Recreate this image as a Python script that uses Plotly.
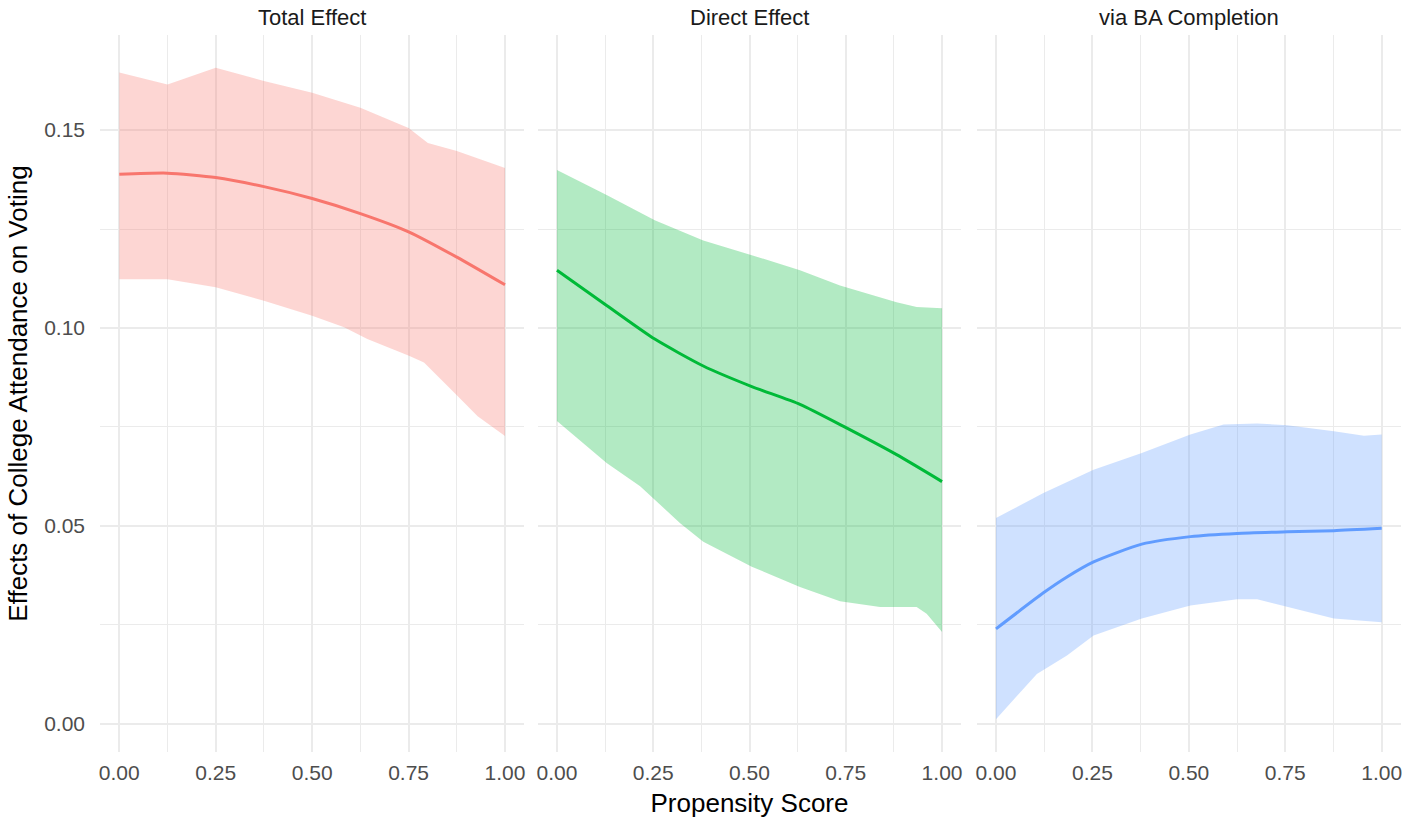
import plotly.graph_objects as go

# ---------------- data ----------------
panels = ["Total Effect", "Direct Effect", "via BA Completion"]
x_ticks = [0.0, 0.25, 0.5, 0.75, 1.0]
x_tick_labels = ["0.00", "0.25", "0.50", "0.75", "1.00"]
y_ticks = [0.0, 0.05, 0.10, 0.15]
y_tick_labels = ["0.00", "0.05", "0.10", "0.15"]

# Total effect
tot_up_x = [0, 0.125, 0.25, 0.375, 0.5, 0.625, 0.75, 0.8, 0.875, 1.0]
tot_up = [0.1645, 0.1615, 0.1657, 0.1624, 0.1594, 0.1556, 0.1505, 0.1467, 0.1447, 0.1404]
tot_est_x = [0, 0.125, 0.25, 0.375, 0.5, 0.625, 0.75, 0.875, 1.0]
tot_est = [0.1388, 0.1391, 0.1380, 0.1357, 0.1327, 0.1289, 0.1243, 0.1179, 0.1109]
tot_lo_x = [0, 0.125, 0.25, 0.375, 0.5, 0.583, 0.643, 0.751, 0.79, 0.877, 0.929, 1.0]
tot_lo = [0.1123, 0.1123, 0.1103, 0.1069, 0.1031, 0.1002, 0.0972, 0.0930, 0.0913, 0.0828, 0.0777, 0.0727]

# Direct effect
dir_up_x = [0, 0.085, 0.129, 0.254, 0.380, 0.506, 0.631, 0.735, 0.882, 0.934, 1.0]
dir_up = [0.1399, 0.1357, 0.1336, 0.1272, 0.1221, 0.1184, 0.1146, 0.1107, 0.1065, 0.1053, 0.1050]
dir_est_x = [0, 0.129, 0.254, 0.380, 0.506, 0.631, 0.743, 0.882, 1.0]
dir_est = [0.1146, 0.1057, 0.0972, 0.0904, 0.0852, 0.0807, 0.0752, 0.0680, 0.0612]
dir_lo_x = [0, 0.129, 0.216, 0.254, 0.32, 0.380, 0.506, 0.631, 0.735, 0.839, 0.934, 0.960, 1.0]
dir_lo = [0.0765, 0.0659, 0.0600, 0.0566, 0.0507, 0.0460, 0.0397, 0.0346, 0.0310, 0.0295, 0.0295, 0.0278, 0.0232]

# Via BA completion
ba_up_x = [0, 0.123, 0.253, 0.378, 0.504, 0.59, 0.677, 0.755, 0.876, 0.954, 1.0]
ba_up = [0.0520, 0.0583, 0.0642, 0.0684, 0.0731, 0.0756, 0.0759, 0.0754, 0.0739, 0.0728, 0.0731]
ba_est_x = [0, 0.123, 0.184, 0.253, 0.378, 0.504, 0.625, 0.755, 0.876, 1.0]
ba_est = [0.0240, 0.0331, 0.0371, 0.0409, 0.0454, 0.0473, 0.0481, 0.0485, 0.0488, 0.0494]
ba_lo_x = [0, 0.106, 0.184, 0.253, 0.378, 0.504, 0.625, 0.677, 0.755, 0.876, 1.0]
ba_lo = [0.0012, 0.0126, 0.0173, 0.0223, 0.0266, 0.0299, 0.0315, 0.0315, 0.0295, 0.0266, 0.0257]

line_colors = ["#F8766D", "#00BA38", "#619CFF"]
fill_colors = ["rgba(248,118,109,0.3)", "rgba(0,186,56,0.3)", "rgba(97,156,255,0.3)"]

series = [
    (tot_up_x, tot_up, tot_est_x, tot_est, tot_lo_x, tot_lo),
    (dir_up_x, dir_up, dir_est_x, dir_est, dir_lo_x, dir_lo),
    (ba_up_x, ba_up, ba_est_x, ba_est, ba_lo_x, ba_lo),
]

FONT = "Liberation Sans, Arial, Helvetica, sans-serif"
fig = go.Figure()

for i, (ux, uy, ex, ey, lx, ly) in enumerate(series):
    xa = "x" if i == 0 else f"x{i+1}"
    ya = "y" if i == 0 else f"y{i+1}"
    poly_x = list(ux) + list(reversed(lx))
    poly_y = list(uy) + list(reversed(ly))
    fig.add_trace(go.Scatter(x=poly_x, y=poly_y, fill="toself", fillcolor=fill_colors[i],
                             line=dict(width=0), mode="lines", xaxis=xa, yaxis=ya,
                             showlegend=False, hoverinfo="skip"))
    fig.add_trace(go.Scatter(x=ex, y=ey, mode="lines",
                             line=dict(color=line_colors[i], width=3, shape="spline", smoothing=0.6),
                             xaxis=xa, yaxis=ya, showlegend=False))

W, H = 1416, 825
ml, mr, mt, mb = 100, 15, 35, 73
pw = W - ml - mr
domains = [
    (0.0, (524.3 - ml) / pw),
    ((537.7 - ml) / pw, (961.3 - ml) / pw),
    ((976.7 - ml) / pw, 1.0),
]

grid = "#EBEBEB"
axis_common = dict(showline=False, zeroline=False, ticks="", showgrid=True,
                   gridcolor=grid, gridwidth=1.5, automargin=False,
                   tickfont=dict(family=FONT, size=21, color="#4D4D4D"))

layout_axes = {}
for i in range(3):
    xk = "xaxis" if i == 0 else f"xaxis{i+1}"
    yk = "yaxis" if i == 0 else f"yaxis{i+1}"
    xa_anchor = "y" if i == 0 else f"y{i+1}"
    ya_anchor = "x" if i == 0 else f"x{i+1}"
    layout_axes[xk] = dict(axis_common, domain=list(domains[i]), anchor=xa_anchor,
                           range=[-0.05, 1.05], tickvals=x_ticks, ticktext=x_tick_labels,
                           ticklabelstandoff=6,
                           minor=dict(tick0=0.125, dtick=0.25, showgrid=True, gridcolor=grid, gridwidth=0.75))
    layout_axes[yk] = dict(axis_common, domain=[0, 1], anchor=ya_anchor,
                           range=[-0.0071, 0.1740], tickvals=y_ticks,
                           ticktext=y_tick_labels if i == 0 else None,
                           showticklabels=(i == 0), ticklabelstandoff=14,
                           minor=dict(tick0=0.025, dtick=0.05, showgrid=True, gridcolor=grid, gridwidth=0.75))
    if i > 0:
        layout_axes[yk]["matches"] = "y"

layout_axes["xaxis2"]["title"] = dict(text="Propensity Score", font=dict(family=FONT, size=26, color="#000000"), standoff=10)
layout_axes["yaxis"]["title"] = dict(text="Effects of College Attendance on Voting", font=dict(family=FONT, size=26, color="#000000"), standoff=9)

annotations = []
ph = H - mt - mb
for i, name in enumerate(panels):
    annotations.append(dict(text=name, x=(domains[i][0] + domains[i][1]) / 2, y=1 + 18 / ph,
                            xref="paper", yref="paper", xanchor="center", yanchor="middle",
                            showarrow=False, font=dict(family=FONT, size=22, color="#1A1A1A")))

fig.update_layout(width=W, height=H, margin=dict(l=ml, r=mr, t=mt, b=mb),
                  plot_bgcolor="white", paper_bgcolor="white", annotations=annotations,
                  showlegend=False, **layout_axes)

# remove the default 8px page margin so the figure sits at the window's top-left corner
fig.write_html("out.html", config={"displayModeBar": False},
               post_script="document.body.style.margin='0';")
